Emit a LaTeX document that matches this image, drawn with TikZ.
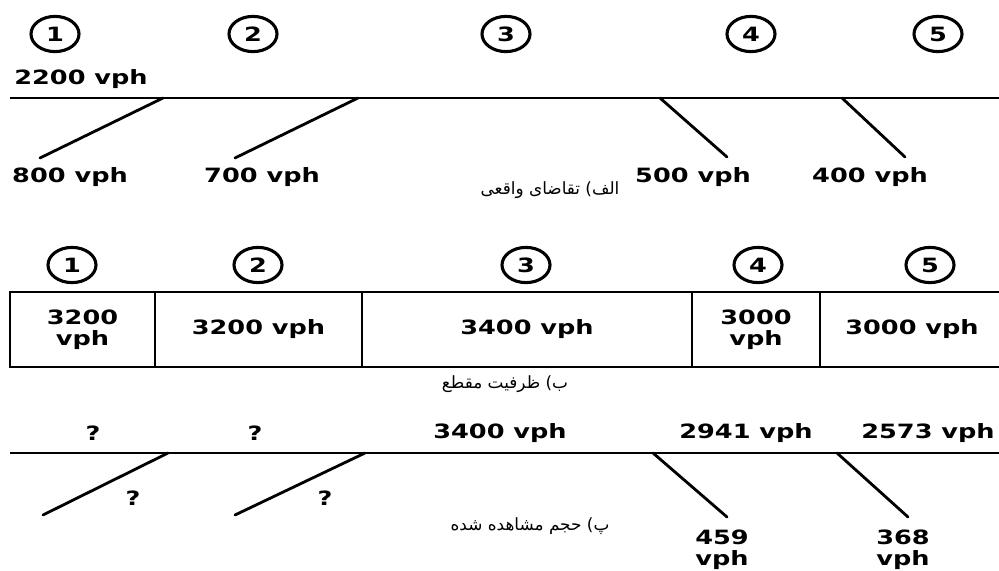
\documentclass[tikz,border=0pt]{standalone}
\usepackage{fontspec}
\setmainfont{DejaVu Sans}
\newfontfamily\vphfont[FakeStretch=1.3]{DejaVu Sans}
\newfontfamily\arabicfont[Script=Arabic]{DejaVu Sans}
\TeXXeTstate=1
\usetikzlibrary{shapes.geometric}

\begin{document}
\begin{tikzpicture}[x=0.025cm, y=-0.025cm,
  seg/.style={ellipse, draw, line width=2.2pt, minimum width=1.2cm,
              minimum height=0.88cm, inner sep=0pt,
              font=\vphfont\bfseries\fontsize{14}{15}\selectfont},
  flow/.style={align=center, inner sep=0pt,
               font=\vphfont\bfseries\fontsize{14}{15}\selectfont},
  cell/.style={rectangle, draw, line width=2pt, minimum height=1.875cm,
               inner sep=0pt, align=center,
               font=\vphfont\bfseries\fontsize{14}{15}\selectfont},
  road/.style={line width=1.5pt},
  ramp/.style={line width=2pt, line cap=round},
  caption/.style={inner sep=0pt, font=\arabicfont\fontsize{12}{14}\selectfont}
]
\useasboundingbox (0,0) rectangle (999,571);

% ── (a) actual demand ───────────────────
\foreach \x [count=\i] in {55,253,506,751,938}
  \node[seg] (ca\i) at (\x,34) {\i};

\node[flow] (inA) at (81,79) {2200 vph};
\coordinate (roadA-w) at (10,98);
\coordinate (roadA-e) at (999,98);
\draw[road] (roadA-w) -- (roadA-e);

\coordinate (onA1) at (163,98);  \coordinate (onA1e) at (40,158);
\coordinate (onA2) at (358,98);  \coordinate (onA2e) at (235,158);
\coordinate (offA1) at (660,98); \coordinate (offA1e) at (727,157);
\coordinate (offA2) at (842,98); \coordinate (offA2e) at (905,157);
\draw[ramp] (onA1) -- (onA1e);
\draw[ramp] (onA2) -- (onA2e);
\draw[ramp] (offA1) -- (offA1e);
\draw[ramp] (offA2) -- (offA2e);

\node[flow] (qA1) at (70,177)  {800 vph};
\node[flow] (qA2) at (262,177) {700 vph};
\node[flow] (qA3) at (693,177) {500 vph};
\node[flow] (qA4) at (870,177) {400 vph};

\node[caption] (capA) at (550,190) {\beginR الف) تقاضای واقعی\endR};

% ── (b) section capacity ────────────────
\foreach \x [count=\i] in {72,258,526,758,930}
  \node[seg] (cb\i) at (\x,265) {\i};

\node[cell, minimum width=3.625cm] (b1) at (82.5,329.5)  {3200\\vph};
\node[cell, minimum width=5.175cm] (b2) at (258.5,329.5) {3200 vph};
\node[cell, minimum width=8.25cm]  (b3) at (527,329.5)   {3400 vph};
\node[cell, minimum width=3.2cm]   (b4) at (756,329.5)   {3000\\vph};
\node[cell, minimum width=4.6cm]   (b5) at (912,329.5)   {3000 vph};

\node[caption] (capB) at (505,384) {\beginR ب) ظرفیت مقطع\endR};

% ── (c) observed volume ─────────────────
\node[flow] (vC1) at (93,433)  {?};
\node[flow] (vC2) at (255,433) {?};
\node[flow] (vC3) at (500,433) {3400 vph};
\node[flow] (vC4) at (746,433) {2941 vph};
\node[flow] (vC5) at (928,433) {2573 vph};

\coordinate (roadC-w) at (10,453);
\coordinate (roadC-e) at (999,453);
\draw[road] (roadC-w) -- (roadC-e);

\coordinate (onC1) at (168,453);  \coordinate (onC1e) at (43,515);
\coordinate (onC2) at (365,453);  \coordinate (onC2e) at (235,515);
\coordinate (offC1) at (653,453); \coordinate (offC1e) at (727,517);
\coordinate (offC2) at (837,453); \coordinate (offC2e) at (908,517);
\draw[ramp] (onC1) -- (onC1e);
\draw[ramp] (onC2) -- (onC2e);
\draw[ramp] (offC1) -- (offC1e);
\draw[ramp] (offC2) -- (offC2e);

\node[flow] (qC1) at (133,498) {?};
\node[flow] (qC2) at (325,498) {?};
\node[flow] (qC3) at (722,550) {459\\vph};
\node[flow] (qC4) at (903,550) {368\\vph};

\node[caption] (capC) at (530,526) {\beginR پ) حجم مشاهده شده\endR};

\end{tikzpicture}
\end{document}
